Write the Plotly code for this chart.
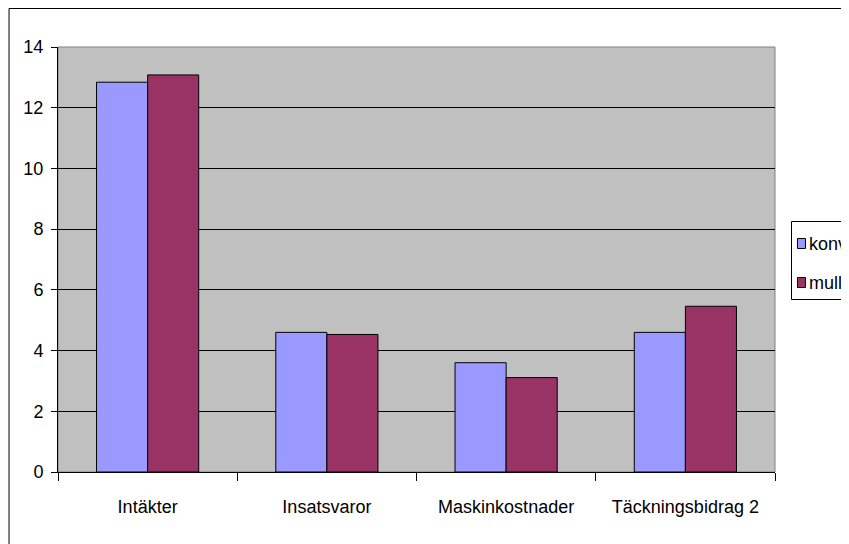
import plotly.graph_objects as go

categories = ["Intäkter", "Insatsvaror", "Maskinkostnader", "Täckningsbidrag 2"]
konv = [12.84, 4.60, 3.60, 4.60]
mull = [13.08, 4.53, 3.11, 5.46]
series_names = ["konv", "mull"]
colors = ["#9999FF", "#993366"]

FONT = "Arial, Liberation Sans, sans-serif"

fig = go.Figure()
for name, vals, col in zip(series_names, [konv, mull], colors):
    fig.add_trace(go.Bar(
        x=categories, y=vals, name=name,
        marker=dict(color=col, line=dict(color="black", width=1)),
        showlegend=False,
    ))

# figure sits at an 8px page offset; sizes chosen so it fills the window
W, H = 841, 536
L, T = 49.5, 39
PR, PB = 767, 464          # right / bottom edges of plot area
R, B = W - PR, H - PB
pw, ph = PR - L, PB - T

def px_x(px):
    return (px - L) / pw

def px_y(py):
    return (PB - py) / ph

fig.update_layout(
    width=W, height=H,
    margin=dict(l=L, r=R, t=T, b=B, autoexpand=False),
    paper_bgcolor="white",
    plot_bgcolor="#C0C0C0",
    font=dict(family=FONT, size=18, color="black"),
    barmode="group",
    bargap=0.43,
    bargroupgap=0,
    xaxis=dict(
        type="category",
        tickson="boundaries",
        ticks="outside", ticklen=8, tickcolor="black", tickwidth=1,
        showline=True, linecolor="black", linewidth=1,
        showgrid=False,
        ticklabelstandoff=18,
        tickfont=dict(family=FONT, size=18),
    ),
    yaxis=dict(
        range=[0, 14], dtick=2, tick0=0,
        ticks="outside", ticklen=6, tickcolor="black", tickwidth=1,
        showline=True, linecolor="black", linewidth=1,
        showgrid=True, gridcolor="black", gridwidth=1,
        zeroline=False,
        ticklabelstandoff=4,
        tickfont=dict(family=FONT, size=18),
    ),
)

# plot area border (gray top/right)
fig.add_shape(type="rect", xref="paper", yref="paper", x0=0, y0=0, x1=1, y1=1,
              line=dict(color="#808080", width=1), layer="below")
# outer chart frame (extends past the picture edge)
fig.add_shape(type="rect", xref="paper", yref="paper",
              x0=px_x(0.5), y0=px_y(600), x1=px_x(900), y1=px_y(0.5),
              line=dict(color="black", width=1), fillcolor="rgba(0,0,0,0)")

# legend box
fig.add_shape(type="rect", xref="paper", yref="paper",
              x0=px_x(783.5), y0=px_y(291.5), x1=px_x(900), y1=px_y(213.5),
              line=dict(color="black", width=1), fillcolor="white")
legend_rows = [235.5, 274.5]
for cy, name, col in zip(legend_rows, series_names, colors):
    fig.add_shape(type="rect", xref="paper", yref="paper",
                  x0=px_x(789.5), x1=px_x(797.5), y0=px_y(cy + 5), y1=px_y(cy - 5),
                  line=dict(color="black", width=1), fillcolor=col)
    fig.add_annotation(x=px_x(799), y=px_y(cy), xref="paper", yref="paper",
                       text=name, showarrow=False, xanchor="left", yanchor="middle",
                       font=dict(family=FONT, size=18, color="black"))

fig.write_html("out.html")
